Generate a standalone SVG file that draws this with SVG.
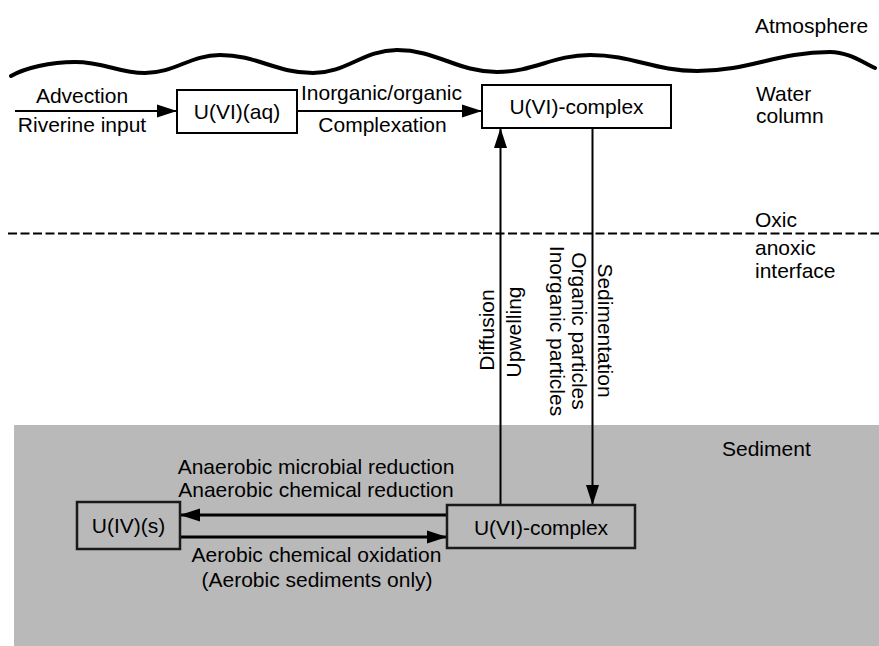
<svg xmlns="http://www.w3.org/2000/svg" width="879" height="646" viewBox="0 0 879 646">
  <style>
    text { font-family: "Liberation Sans", Arial, sans-serif; font-size: 21px; fill: #000; }
    .mid { text-anchor: middle; }
    .box { fill: #fff; stroke: #000; stroke-width: 2; }
    .sbox { fill: #b9b9b9; stroke: #1a1a1a; stroke-width: 2.5; }
    .flow { fill: none; stroke: #000; stroke-width: 2; }
    .flow-thick { fill: none; stroke: #000; stroke-width: 3; }
  </style>
  <defs>
    <marker id="head" markerUnits="userSpaceOnUse" markerWidth="22" markerHeight="14" refX="20" refY="7" orient="auto">
      <path d="M0,0.5 L20,7 L0,13.5 Z" fill="#000"/>
    </marker>
  </defs>

  <!-- sediment layer -->
  <rect x="14" y="425" width="865" height="221" fill="#b9b9b9"/>

  <!-- water surface -->
  <path d="M 11 76 C 25 68, 50 62, 75 62 C 105 62, 118 73, 145 73 C 175 73, 190 55, 220 55 C 257 55, 276 73, 313 73 C 347 73, 363 50, 397 50 C 437 50, 457 72, 497 72 C 534 72, 553 55, 590 55 C 633 55, 654 71, 697 71 C 750 71, 777 52, 830 52 C 848 52, 862 62, 875 68" fill="none" stroke="#000" stroke-width="4" stroke-linecap="round"/>

  <!-- oxic / anoxic interface -->
  <line x1="8" y1="233.5" x2="879" y2="233.5" stroke="#000" stroke-width="2" stroke-dasharray="9,3.5"/>

  <!-- zone labels -->
  <g id="zone-labels">
    <text x="755" y="33">Atmosphere</text>
    <text x="756" y="101">Water</text>
    <text x="756" y="123">column</text>
    <text x="755" y="227">Oxic</text>
    <text x="755" y="255">anoxic</text>
    <text x="755" y="278">interface</text>
    <text x="722" y="456">Sediment</text>
  </g>

  <!-- connectors -->
  <g id="connectors">
    <line class="flow" x1="15" y1="111" x2="177" y2="111" marker-end="url(#head)"/>
    <line class="flow" x1="297" y1="111" x2="482" y2="111" marker-end="url(#head)"/>
    <line class="flow" x1="500.5" y1="505" x2="500.5" y2="128" marker-end="url(#head)" stroke-width="2.5"/>
    <line class="flow" x1="592.5" y1="128" x2="592.5" y2="505" marker-end="url(#head)" stroke-width="2.5"/>
    <line class="flow-thick" x1="447" y1="515" x2="180" y2="515" marker-end="url(#head)"/>
    <line class="flow-thick" x1="180" y1="537" x2="447" y2="537" marker-end="url(#head)"/>

    <text class="mid" x="82" y="103">Advection</text>
    <text class="mid" x="82" y="132">Riverine input</text>
    <text class="mid" x="381.5" y="100">Inorganic/organic</text>
    <text class="mid" x="382.5" y="132">Complexation</text>

    <text class="mid" transform="translate(494,330) rotate(-90)">Diffusion</text>
    <text class="mid" transform="translate(521,332) rotate(-90)">Upwelling</text>
    <text class="mid" transform="translate(550,331) rotate(90)">Inorganic particles</text>
    <text class="mid" transform="translate(572,331) rotate(90)">Organic particles</text>
    <text class="mid" transform="translate(598,330.5) rotate(90)">Sedimentation</text>

    <text class="mid" x="316" y="474">Anaerobic microbial reduction</text>
    <text class="mid" x="316" y="497">Anaerobic chemical reduction</text>
    <text class="mid" x="316.5" y="562">Aerobic chemical oxidation</text>
    <text class="mid" x="317" y="587">(Aerobic sediments only)</text>
  </g>

  <!-- nodes -->
  <g id="u6-aq">
    <rect class="box" x="177" y="90" width="120" height="43"/>
    <text class="mid" x="237" y="119">U(VI)(aq)</text>
  </g>
  <g id="u6-complex-water">
    <rect class="box" x="482" y="85" width="189" height="43"/>
    <text class="mid" x="576.5" y="114">U(VI)-complex</text>
  </g>
  <g id="u4-solid">
    <rect class="sbox" x="77" y="502" width="103" height="47"/>
    <text class="mid" x="128.5" y="533">U(IV)(s)</text>
  </g>
  <g id="u6-complex-sediment">
    <rect class="sbox" x="447" y="505" width="188" height="43"/>
    <text class="mid" x="541" y="535">U(VI)-complex</text>
  </g>
</svg>
